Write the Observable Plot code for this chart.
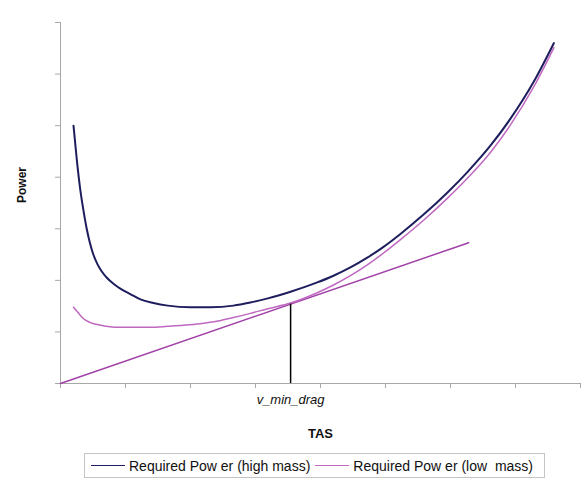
<!DOCTYPE html>
<html>
<head>
<meta charset="utf-8">
<script src="https://cdn.jsdelivr.net/npm/d3@7"></script>
<script src="https://cdn.jsdelivr.net/npm/@observablehq/plot@0.6"></script>
<style>
  body { margin: 0; background: #fff; font-family: "Liberation Sans", Arial, sans-serif; }
  #chart { position: relative; width: 584px; height: 494px; }
  .legend { position: absolute; left: 84px; top: 453px; height: 25px; border: 1px solid #c4c4c4; display: flex; align-items: center; padding: 0 6px 0 6px; font-size: 14px; color: #111; white-space: pre; box-sizing: border-box; }
  .sw { display: inline-block; width: 34px; height: 0; border-top: 1.5px solid; margin: 0 4px 0 0; }
  .item { display: inline-flex; align-items: center; margin-right: 5px; }
</style>
</head>
<body>
<div id="chart"></div>
<script>
// Series: TAS (arbitrary units) and required power
const highTAS = [2.0, 2.5, 3.0, 3.5, 4.0, 4.5, 5.0, 5.7, 6.3, 7.2, 8.2, 9.2, 10.8, 12.3, 14.3, 16.5, 20.0, 23.1, 26.6, 29.2, 31.9, 35.4, 39.5, 42.0, 44.6, 47.2, 49.7, 52.3, 55.9, 59.5, 62.6, 66.2, 69.2, 72.8, 75.9];
const highPower = [50.0, 43.5, 38.0, 33.8, 30.2, 27.4, 25.2, 23.1, 21.8, 20.4, 19.3, 18.4, 17.3, 16.3, 15.6, 15.1, 14.8, 14.8, 15.1, 15.7, 16.5, 17.8, 19.6, 20.9, 22.5, 24.4, 26.5, 29.0, 32.8, 37.0, 41.0, 46.2, 51.3, 58.5, 66.0];
const lowTAS = [2.0, 2.8, 3.5, 4.6, 6.2, 8.8, 11.2, 13.9, 16.5, 18.9, 21.5, 24.2, 26.6, 29.2, 31.9, 35.4, 39.5, 42.0, 44.6, 47.2, 49.7, 52.3, 55.9, 59.5, 62.6, 66.2, 69.2, 72.8, 75.9];
const lowPower = [14.8, 13.6, 12.6, 11.8, 11.3, 10.9, 10.9, 10.9, 11.1, 11.3, 11.6, 12.1, 12.8, 13.6, 14.5, 15.6, 17.6, 19.1, 20.9, 23.0, 25.3, 27.9, 31.7, 35.9, 39.8, 44.9, 50.1, 57.5, 65.1];
const tangentTAS = [0, 62.8];
const tangentPower = [0, 27.3];
const vMinDrag = [35.4];
const vMinPower = [15.4];
const xTicks = [0, 10, 20, 30, 40, 50, 60, 70, 80];
const yTicks = [0, 10, 20, 30, 40, 50, 60, 70];
const seriesNames = ["Required Pow er (high mass)", "Required Pow er (low  mass)"];
const seriesColors = ["#1e1e5e", "#c068c0"];

const high = highTAS.map((x, i) => ({x, y: highPower[i]}));
const low = lowTAS.map((x, i) => ({x, y: lowPower[i]}));
const tangent = tangentTAS.map((x, i) => ({x, y: tangentPower[i]}));
const vline = vMinDrag.map((x, i) => ({x, y: vMinPower[i]}));

const axisColor = "#a8a8a8";
const plot = Plot.plot({
  width: 584,
  height: 450,
  marginLeft: 60,
  marginRight: 4,
  marginTop: 22,
  marginBottom: 67,
  style: {background: "#fff", fontFamily: "Liberation Sans, Arial, sans-serif"},
  x: {domain: [0, 80]},
  y: {domain: [0, 70]},
  marks: [
    Plot.axisX({ticks: xTicks, tickSize: 5, tickFormat: () => "", stroke: axisColor, label: null}),
    Plot.axisY({ticks: yTicks, tickSize: 5, tickFormat: () => "", stroke: axisColor, label: null}),
    Plot.ruleY([0], {stroke: axisColor}),
    Plot.ruleX([0], {y1: 0, y2: 70, stroke: axisColor}),
    Plot.line(tangent, {x: "x", y: "y", stroke: "#a040a8", strokeWidth: 1.5}),
    Plot.line(low, {x: "x", y: "y", stroke: seriesColors[1], strokeWidth: 1.5, curve: "monotone-x"}),
    Plot.line(high, {x: "x", y: "y", stroke: seriesColors[0], strokeWidth: 2, curve: "monotone-x"}),
    Plot.ruleX(vline, {x: "x", y1: 0, y2: "y", stroke: "#000", strokeWidth: 1.5}),
    Plot.text(vline, {x: "x", y: 0, dy: 16, text: () => "v_min_drag", fontStyle: "italic", fontSize: 13, fill: "#111"}),
    Plot.text(["TAS"], {frameAnchor: "bottom", dy: 54, text: d => d, fontWeight: "bold", fontSize: 13, fill: "#111"}),
    Plot.text(["Power"], {frameAnchor: "left", dx: -38, rotate: -90, text: d => d, fontWeight: "bold", fontSize: 12, fill: "#111"})
  ]
});
const chart = document.getElementById("chart");
chart.appendChild(plot);

const legend = document.createElement("div");
legend.className = "legend";
seriesNames.forEach((name, i) => {
  const item = document.createElement("span");
  item.className = "item";
  const sw = document.createElement("span");
  sw.className = "sw";
  sw.style.borderTopColor = seriesColors[i];
  item.appendChild(sw);
  item.appendChild(document.createTextNode(name));
  legend.appendChild(item);
});
chart.appendChild(legend);
</script>
</body>
</html>
